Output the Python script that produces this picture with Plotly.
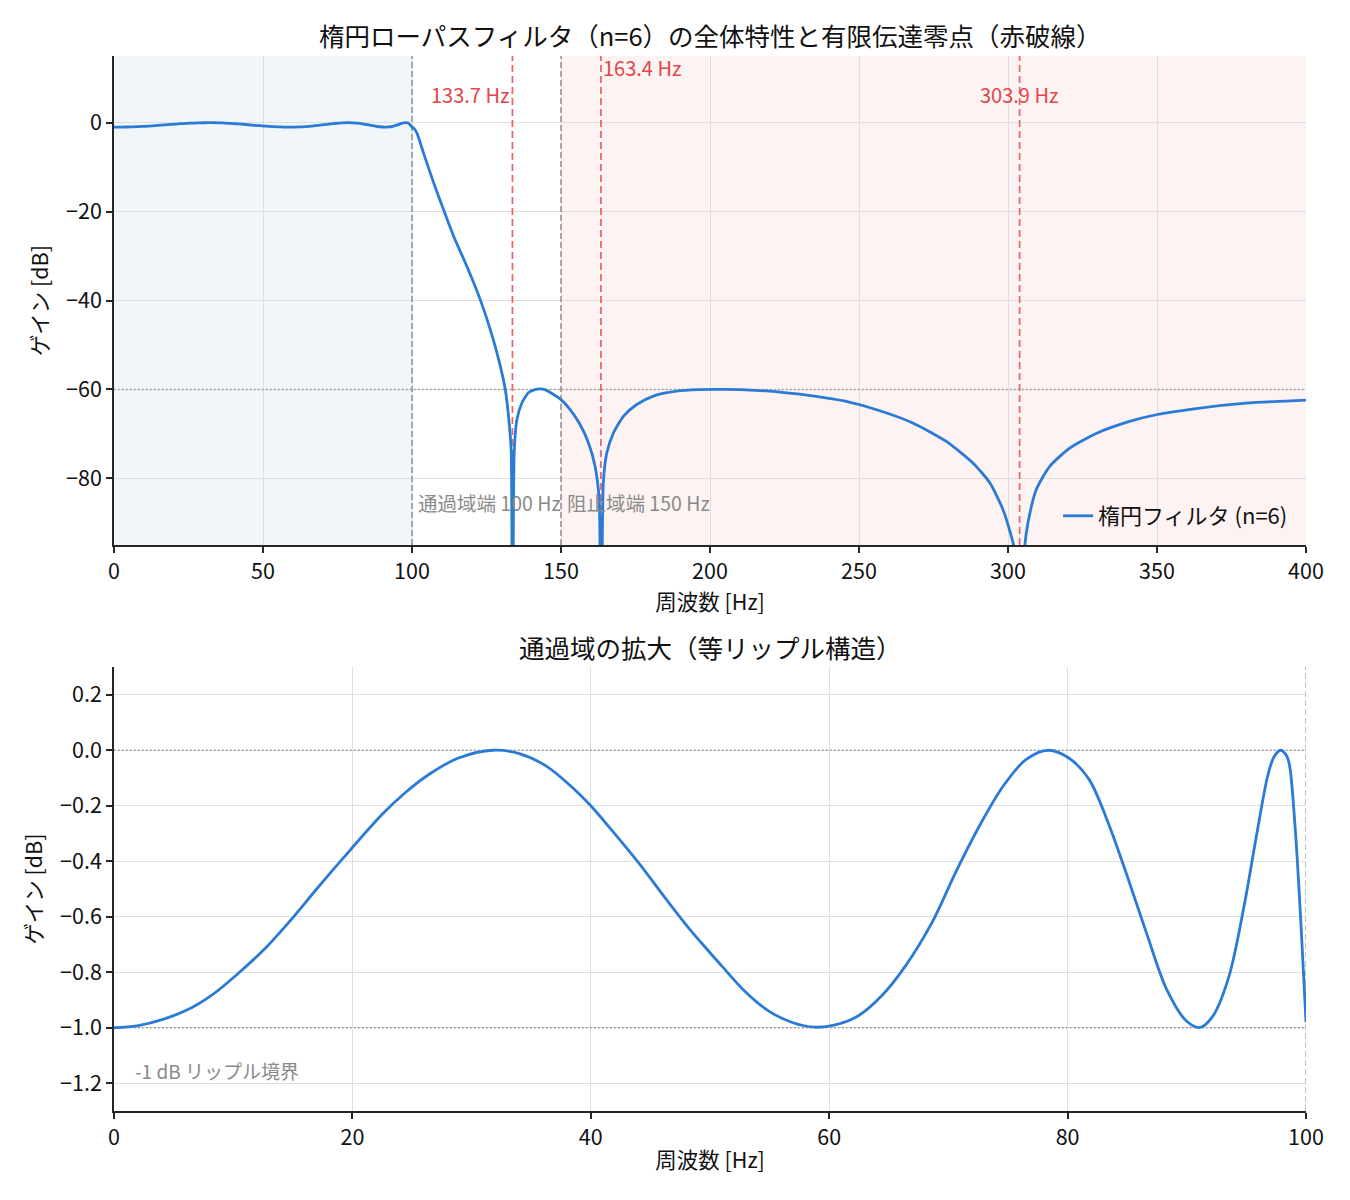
import plotly.graph_objects as go

# ---- data ----
# passband (0-100 Hz), gain in dB
pass_f = [0, 1.93, 4.17, 6.42, 8.35, 10.27, 12.84, 14.77, 17.0, 19.26, 22.5, 24.4,
          26.6, 28.9, 31.8, 34.0, 36.3, 38.5, 40, 41.7, 44.0, 46.2, 48.2, 49.6, 51.0, 52.96,
          54.9, 56.9, 58.8, 60.5, 62.45, 64.4, 66.4, 68.7, 70.6, 72.6, 74.6, 76.5, 78.4,
          80.1, 81.8, 83.4, 85.0, 86.7, 88.3, 89.95, 91.1, 92.2, 93.55, 94.86, 95.84, 96.8,
          97.3, 97.87, 98.3, 98.6, 99.1, 99.6, 100]
pass_db = [-1.0, -0.993, -0.969, -0.93, -0.878, -0.81, -0.707, -0.615, -0.5, -0.387,
           -0.231, -0.154, -0.082, -0.028, 0.0, -0.012, -0.058, -0.136, -0.2, -0.285, -0.405,
           -0.53, -0.64, -0.71, -0.778, -0.87, -0.939, -0.981, -0.998, -0.99, -0.957,
           -0.885, -0.777, -0.615, -0.441, -0.273, -0.129, -0.034, 0.0, -0.028, -0.105,
           -0.261, -0.453, -0.669, -0.861, -0.975, -0.999, -0.957, -0.813, -0.549, -0.309,
           -0.09, -0.025, 0.0, -0.015, -0.05, -0.285, -0.645, -0.98]

# transition + stopband (100-400 Hz), gain in dB
stop_f = [100, 100.8, 101.7, 103.9, 107.3, 110.6, 114, 118.4, 122.9, 126.3, 129.1, 131.3,
          132.6, 133.3, 133.7, 134.3, 135.2, 136.9, 139.1, 141, 143, 144.8, 146.4, 150, 153,
          156.4, 159.2, 161.4, 162.8, 163.4, 164.2, 165.4, 167.6, 171, 175.4, 181, 188.8,
          196, 205, 215, 225, 235, 245, 257, 268.2, 279.3, 288.3, 293.9, 298.3, 301.1, 302,
          303.9, 305.6, 306.7, 309.5, 314, 320.7, 329.6, 340.8, 349.7, 363.1, 379.9, 400]
stop_db = [-0.98, -1.4, -2.4, -6.9, -13.6, -19.6, -25.6, -32.3, -39.8, -46.6, -53.3, -60,
           -67.5, -74.2, -140, -74.2, -66.8, -63, -60.7, -60.1, -59.9, -60.1, -60.7, -62.3,
           -64.5, -67.9, -72, -77.2, -84.7, -140, -81, -74.2, -69.8, -66, -63.4, -61.5,
           -60.4, -60.05, -60.0, -60.2, -60.7, -61.5, -62.6, -64.8, -67.6, -71.7, -76.6,
           -81, -87, -93, -95.5, -140, -95.5, -90, -82.5, -77.3, -73.2, -69.9, -67.2, -65.7,
           -64.3, -63.1, -62.4]

zeros_hz = [133.7, 163.4, 303.9]
zero_label_y = [6.3, 12.4, 6.3]
zero_label_anchor = ["right", "left", "center"]

passband_edge = 100
stopband_edge = 150
stop_atten = -60
ripple_db = -1

top_x_range = [0, 400]
top_y_range = [-95, 15]
bot_x_range = [0, 100]
bot_y_range = [-1.3, 0.3]

top_x_ticks = [0, 50, 100, 150, 200, 250, 300, 350, 400]
top_y_ticks = [0, -20, -40, -60, -80]
bot_x_ticks = [0, 20, 40, 60, 80, 100]
bot_y_ticks = [0.2, 0.0, -0.2, -0.4, -0.6, -0.8, -1.0, -1.2]

FONT = "Noto Sans CJK JP"
BLUE = "#2b7bd6"
GRID = "#dedede"
AX = "#262626"
GRAY_LINE = "#959595"
RED_LINE = "rgba(232,70,76,0.85)"

full_f = pass_f + stop_f[1:]
full_db = pass_db + stop_db[1:]

fig = go.Figure()


def ref_line(x, y, color, dash, width, xa, ya):
    fig.add_trace(go.Scatter(x=x, y=y, mode="lines", showlegend=False, hoverinfo="skip",
                             line=dict(color=color, width=width, dash=dash),
                             xaxis=xa, yaxis=ya))


# reference lines (drawn above the grid, below the curve)
for xe in [passband_edge, stopband_edge]:
    ref_line([xe, xe], top_y_range, GRAY_LINE, "6px,3px", 1.6, "x", "y")
for z in zeros_hz:
    ref_line([z, z], top_y_range, RED_LINE, "7px,4px", 1.7, "x", "y")
ref_line(top_x_range, [stop_atten, stop_atten], GRAY_LINE, "1.5px,2.5px", 1.5, "x", "y")
for yv in [0, ripple_db]:
    ref_line(bot_x_range, [yv, yv], GRAY_LINE, "1.5px,2.5px", 1.5, "x2", "y2")
ref_line([passband_edge, passband_edge], bot_y_range, "#a0a0a0", "6px,3px", 1.3, "x2", "y2")

fig.add_trace(go.Scatter(x=full_f, y=full_db, mode="lines", name="楕円フィルタ (n=6)",
                         line=dict(color=BLUE, width=2.8, shape="spline", smoothing=0.6),
                         xaxis="x", yaxis="y"))
fig.add_trace(go.Scatter(x=pass_f, y=pass_db, mode="lines", showlegend=False,
                         line=dict(color=BLUE, width=2.8, shape="spline", smoothing=0.9),
                         xaxis="x2", yaxis="y2"))

shapes = []
# shaded bands
shapes.append(dict(type="rect", xref="x", yref="y domain", x0=0, x1=passband_edge, y0=0, y1=1,
                   fillcolor="#f1f6fa", line=dict(width=0), layer="below"))
shapes.append(dict(type="rect", xref="x", yref="y domain", x0=stopband_edge, x1=400, y0=0, y1=1,
                   fillcolor="#fdf3f2", line=dict(width=0), layer="below"))

annotations = []
for z, yl, anc in zip(zeros_hz, zero_label_y, zero_label_anchor):
    annotations.append(dict(x=z, y=yl, xref="x", yref="y", text=f"{z:.1f} Hz", showarrow=False,
                            xanchor=anc, yanchor="middle",
                            font=dict(family=FONT, size=20, color="#e0474c")))
annotations.append(dict(x=101.3, y=-85.4, xref="x", yref="y", text="通過域端 100 Hz",
                        showarrow=False, xanchor="left", yanchor="middle",
                        font=dict(family=FONT, size=19.5, color="#8a8a8a")))
annotations.append(dict(x=151.3, y=-85.4, xref="x", yref="y", text="阻止域端 150 Hz",
                        showarrow=False, xanchor="left", yanchor="middle",
                        font=dict(family=FONT, size=19.5, color="#8a8a8a")))
annotations.append(dict(x=1.6, y=-1.155, xref="x2", yref="y2", text="-1 dB リップル境界",
                        showarrow=False, xanchor="left", yanchor="middle",
                        font=dict(family=FONT, size=19, color="#8a8a8a")))
# titles
H_PLOT = 1055.0


def py(px):
    return (1111 - px) / H_PLOT


annotations.append(dict(x=0.5, y=py(35), xref="paper", yref="paper", showarrow=False,
                        text="楕円ローパスフィルタ（n=6）の全体特性と有限伝達零点（赤破線）",
                        xanchor="center", yanchor="middle",
                        font=dict(family=FONT, size=25.5, color="#111111")))
annotations.append(dict(x=0.5, y=py(646), xref="paper", yref="paper", showarrow=False,
                        text="通過域の拡大（等リップル構造）",
                        xanchor="center", yanchor="middle",
                        font=dict(family=FONT, size=25.5, color="#111111")))

axis_common = dict(showgrid=True, gridcolor=GRID, gridwidth=1.3, zeroline=False,
                   showline=True, linecolor=AX, linewidth=1.7, ticks="outside",
                   ticklen=6, tickwidth=1.5, tickcolor=AX, mirror=False,
                   tickfont=dict(family=FONT, size=21.5, color="#111111"))

fig.update_layout(
    width=1350, height=1200,
    margin=dict(l=114, r=44, t=56, b=89),
    paper_bgcolor="white", plot_bgcolor="white",
    font=dict(family=FONT, color="#111111"),
    shapes=shapes, annotations=annotations,
    showlegend=True,
    legend=dict(x=0.792, y=py(516), xanchor="left", yanchor="middle",
                bgcolor="rgba(0,0,0,0)", borderwidth=0,
                font=dict(family=FONT, size=22, color="#111111")),
    xaxis=dict(domain=[0, 1], anchor="y", range=top_x_range, tickvals=top_x_ticks,
               title=dict(text="周波数 [Hz]", font=dict(family=FONT, size=21.5), standoff=3),
               **axis_common),
    yaxis=dict(domain=[py(545), 1], anchor="x", range=top_y_range, tickvals=top_y_ticks,
               title=dict(text="ゲイン [dB]", font=dict(family=FONT, size=21.5), standoff=12),
               **axis_common),
    xaxis2=dict(domain=[0, 1], anchor="y2", range=bot_x_range, tickvals=bot_x_ticks,
                title=dict(text="周波数 [Hz]", font=dict(family=FONT, size=21.5), standoff=3),
                **axis_common),
    yaxis2=dict(domain=[0, py(667)], anchor="x2", range=bot_y_range, tickvals=bot_y_ticks,
                tickformat=".1f",
                title=dict(text="ゲイン [dB]", font=dict(family=FONT, size=21.5), standoff=12),
                **axis_common),
)

fig.write_html("out.html")
